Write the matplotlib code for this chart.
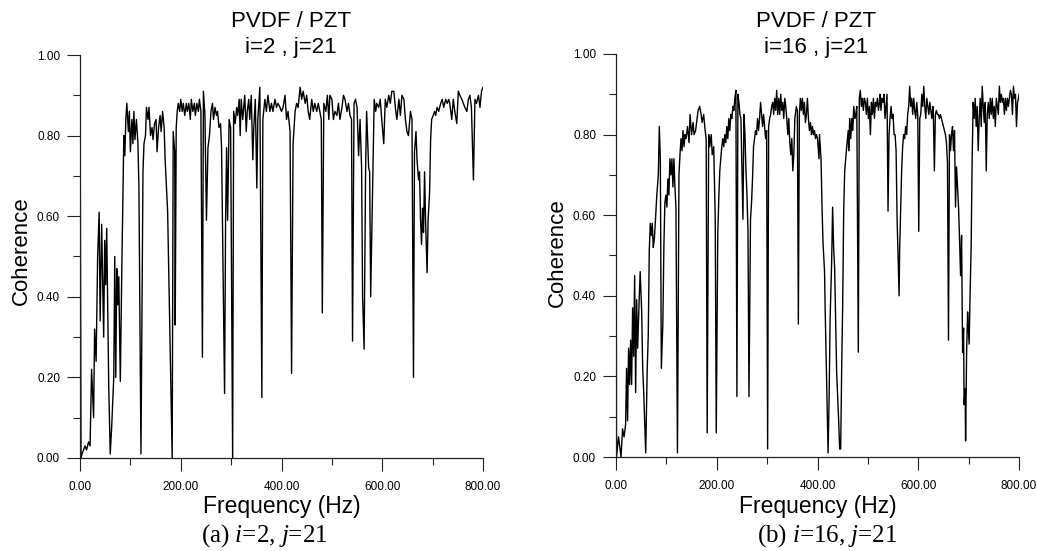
import matplotlib
matplotlib.use("Agg")
import matplotlib.pyplot as plt
from matplotlib.ticker import MultipleLocator, FormatStrFormatter

plt.rcParams['font.family'] = ['Liberation Sans', 'DejaVu Sans']
plt.rcParams['mathtext.fontset'] = 'custom'
plt.rcParams['mathtext.rm'] = 'Liberation Serif'
plt.rcParams['mathtext.it'] = 'Liberation Serif:italic'

# ---------------- data ----------------
left_freq = [
    0, 2, 4, 7, 10, 13, 17, 20, 23, 27,
    29, 32, 35, 38, 40, 43, 47, 49, 51, 53,
    57, 60, 63, 67, 69, 71, 73, 75, 77, 80,
    83, 87, 89, 91, 93, 96, 98, 100, 103, 105,
    107, 109, 112, 115, 117, 121, 125, 127, 130, 132,
    135, 137, 140, 143, 145, 148, 151, 153, 156, 159,
    161, 164, 167, 169, 172, 174, 183, 185, 188, 189,
    191, 193, 195, 198, 200, 203, 205, 208, 211, 213,
    216, 219, 221, 224, 227, 229, 232, 235, 237, 240,
    243, 245, 248, 251, 254, 257, 260, 263, 265, 268,
    271, 273, 276, 279, 281, 287, 289, 291, 293, 296,
    299, 303, 305, 308, 311, 313, 316, 318, 320, 323,
    327, 330, 332, 335, 337, 340, 343, 345, 348, 351,
    353, 357, 361, 363, 367, 370, 373, 377, 380, 383,
    387, 390, 393, 397, 400, 403, 407, 410, 413, 417,
    420, 423, 427, 430, 433, 437, 440, 443, 447, 450,
    453, 456, 460, 463, 466, 470, 473, 476, 479, 481,
    484, 488, 491, 494, 496, 500, 503, 506, 510, 513,
    516, 520, 523, 526, 530, 533, 536, 539, 541, 544,
    547, 550, 553, 556, 559, 561, 564, 567, 569, 573,
    575, 577, 580, 584, 587, 589, 593, 596, 599, 603,
    606, 609, 613, 616, 619, 623, 626, 629, 633, 636,
    639, 643, 646, 649, 652, 656, 659, 662, 664, 667,
    669, 672, 674, 676, 678, 680, 681, 682, 684, 686,
    689, 691, 694, 696, 698, 701, 704, 706, 709, 712,
    716, 719, 722, 726, 729, 732, 734, 738, 741, 744,
    748, 751, 754, 758, 761, 764, 768, 771, 774, 777,
    781, 784, 787, 791, 794, 797, 800,
]
left_coh = [
    0.99, 0.00, 0.01, 0.02, 0.03, 0.02, 0.04, 0.03, 0.22, 0.10,
    0.32, 0.24, 0.50, 0.61, 0.34, 0.58, 0.30, 0.54, 0.43, 0.57,
    0.18, 0.01, 0.08, 0.20, 0.50, 0.20, 0.47, 0.38, 0.45, 0.19,
    0.47, 0.80, 0.75, 0.84, 0.88, 0.81, 0.86, 0.76, 0.84, 0.78,
    0.86, 0.79, 0.84, 0.78, 0.67, 0.01, 0.71, 0.78, 0.80, 0.87,
    0.84, 0.87, 0.80, 0.82, 0.79, 0.83, 0.84, 0.76, 0.82, 0.85,
    0.81, 0.86, 0.82, 0.74, 0.66, 0.61, 0.00, 0.81, 0.76, 0.33,
    0.82, 0.86, 0.88, 0.86, 0.89, 0.86, 0.88, 0.85, 0.88, 0.86,
    0.88, 0.84, 0.89, 0.86, 0.88, 0.85, 0.88, 0.86, 0.89, 0.86,
    0.25, 0.91, 0.85, 0.59, 0.77, 0.80, 0.86, 0.88, 0.84, 0.87,
    0.85, 0.86, 0.82, 0.83, 0.77, 0.16, 0.59, 0.77, 0.59, 0.84,
    0.82, 0.00, 0.86, 0.83, 0.87, 0.85, 0.89, 0.80, 0.89, 0.84,
    0.90, 0.81, 0.86, 0.89, 0.84, 0.90, 0.74, 0.82, 0.89, 0.67,
    0.84, 0.92, 0.15, 0.84, 0.89, 0.86, 0.90, 0.86, 0.88, 0.86,
    0.89, 0.87, 0.88, 0.87, 0.86, 0.87, 0.90, 0.84, 0.86, 0.81,
    0.21, 0.78, 0.86, 0.88, 0.87, 0.92, 0.89, 0.91, 0.88, 0.90,
    0.86, 0.84, 0.89, 0.86, 0.88, 0.86, 0.88, 0.86, 0.84, 0.36,
    0.88, 0.86, 0.90, 0.84, 0.90, 0.89, 0.84, 0.86, 0.85, 0.88,
    0.84, 0.87, 0.90, 0.89, 0.86, 0.88, 0.85, 0.84, 0.29, 0.88,
    0.89, 0.87, 0.75, 0.84, 0.72, 0.40, 0.27, 0.72, 0.86, 0.72,
    0.71, 0.40, 0.61, 0.89, 0.86, 0.88, 0.87, 0.89, 0.84, 0.78,
    0.89, 0.87, 0.90, 0.88, 0.91, 0.91, 0.87, 0.84, 0.89, 0.85,
    0.90, 0.89, 0.84, 0.81, 0.80, 0.86, 0.84, 0.20, 0.76, 0.81,
    0.74, 0.69, 0.71, 0.59, 0.53, 0.62, 0.57, 0.56, 0.71, 0.59,
    0.46, 0.59, 0.66, 0.79, 0.84, 0.85, 0.86, 0.85, 0.87, 0.86,
    0.88, 0.89, 0.87, 0.89, 0.88, 0.89, 0.88, 0.84, 0.89, 0.86,
    0.83, 0.91, 0.90, 0.89, 0.88, 0.87, 0.86, 0.89, 0.90, 0.87,
    0.69, 0.89, 0.88, 0.90, 0.87, 0.91, 0.92,
]

right_freq = [
    0, 1, 5, 8, 10, 13, 16, 19, 21, 23,
    25, 27, 29, 31, 33, 35, 37, 39, 41, 43,
    46, 48, 51, 53, 55, 59, 62, 64, 66, 68,
    70, 72, 74, 76, 78, 81, 84, 86, 88, 90,
    93, 95, 97, 99, 101, 103, 105, 107, 109, 111,
    113, 115, 117, 119, 122, 125, 127, 129, 131, 133,
    135, 137, 139, 142, 145, 147, 150, 153, 155, 158,
    161, 163, 166, 169, 171, 174, 177, 179, 181, 184,
    186, 189, 191, 194, 197, 199, 202, 204, 206, 208,
    210, 212, 214, 216, 218, 220, 222, 224, 226, 228,
    230, 232, 234, 236, 238, 240, 242, 244, 246, 248,
    250, 252, 254, 256, 258, 260, 262, 264, 267, 269,
    271, 273, 275, 277, 279, 281, 283, 285, 287, 289,
    291, 293, 295, 297, 299, 301, 303, 305, 307, 309,
    311, 313, 315, 317, 319, 321, 323, 325, 327, 329,
    331, 333, 335, 337, 339, 341, 343, 345, 347, 349,
    351, 353, 355, 358, 360, 362, 364, 366, 368, 370,
    372, 374, 376, 378, 380, 382, 384, 386, 388, 390,
    392, 394, 396, 398, 400, 403, 404, 407, 409, 411,
    414, 415, 417, 419, 421, 423, 425, 428, 430, 432,
    434, 436, 438, 442, 444, 446, 448, 450, 452, 454,
    456, 458, 461, 462, 464, 466, 468, 470, 472, 474,
    476, 478, 481, 483, 485, 487, 489, 491, 493, 495,
    497, 499, 501, 503, 505, 507, 509, 511, 513, 515,
    517, 519, 521, 523, 524, 526, 528, 530, 532, 534,
    536, 538, 540, 542, 544, 546, 548, 550, 552, 554,
    556, 558, 560, 562, 563, 565, 567, 569, 571, 573,
    575, 577, 579, 581, 583, 585, 587, 589, 591, 593,
    595, 597, 599, 601, 603, 605, 607, 609, 611, 613,
    615, 617, 619, 621, 623, 625, 627, 629, 630, 632,
    634, 636, 638, 640, 642, 644, 646, 648, 650, 652,
    654, 656, 658, 660, 662, 664, 666, 668, 670, 672,
    674, 676, 678, 680, 682, 684, 686, 688, 690, 691,
    693, 694, 696, 698, 699, 701, 703, 705, 707, 709,
    711, 713, 715, 717, 719, 721, 723, 725, 727, 729,
    731, 733, 735, 737, 739, 741, 743, 745, 747, 749,
    751, 753, 755, 757, 759, 761, 763, 765, 767, 769,
    771, 773, 775, 777, 779, 781, 783, 785, 787, 789,
    791, 793, 795, 797, 799, 800,
]
right_coh = [
    0.99, 0.00, 0.05, 0.02, 0.00, 0.07, 0.05, 0.08, 0.22, 0.09,
    0.27, 0.18, 0.29, 0.18, 0.37, 0.25, 0.45, 0.16, 0.39, 0.27,
    0.39, 0.46, 0.36, 0.22, 0.16, 0.01, 0.22, 0.30, 0.51, 0.58,
    0.55, 0.58, 0.52, 0.54, 0.58, 0.65, 0.70, 0.82, 0.74, 0.22,
    0.33, 0.52, 0.63, 0.65, 0.62, 0.69, 0.65, 0.74, 0.70, 0.74,
    0.67, 0.74, 0.67, 0.62, 0.01, 0.70, 0.75, 0.79, 0.76, 0.81,
    0.77, 0.80, 0.79, 0.82, 0.78, 0.85, 0.80, 0.83, 0.80, 0.81,
    0.84, 0.86, 0.87, 0.85, 0.83, 0.85, 0.81, 0.79, 0.06, 0.80,
    0.77, 0.80, 0.75, 0.77, 0.59, 0.06, 0.55, 0.64, 0.71, 0.74,
    0.77, 0.79, 0.77, 0.80, 0.78, 0.82, 0.79, 0.84, 0.81, 0.85,
    0.84, 0.87, 0.86, 0.89, 0.91, 0.15, 0.90, 0.88, 0.85, 0.84,
    0.71, 0.59, 0.85, 0.80, 0.71, 0.65, 0.56, 0.15, 0.59, 0.63,
    0.69, 0.77, 0.79, 0.81, 0.80, 0.84, 0.81, 0.84, 0.88, 0.85,
    0.82, 0.85, 0.82, 0.79, 0.81, 0.02, 0.82, 0.84, 0.85, 0.87,
    0.88, 0.85, 0.89, 0.86, 0.91, 0.85, 0.89, 0.85, 0.90, 0.86,
    0.88, 0.84, 0.89, 0.87, 0.84, 0.80, 0.84, 0.78, 0.75, 0.79,
    0.71, 0.75, 0.84, 0.87, 0.86, 0.33, 0.85, 0.89, 0.86, 0.89,
    0.85, 0.88, 0.83, 0.85, 0.89, 0.84, 0.81, 0.83, 0.80, 0.82,
    0.80, 0.81, 0.79, 0.80, 0.79, 0.74, 0.80, 0.74, 0.62, 0.53,
    0.46, 0.38, 0.26, 0.14, 0.01, 0.14, 0.34, 0.48, 0.62, 0.52,
    0.47, 0.34, 0.21, 0.09, 0.02, 0.02, 0.22, 0.38, 0.61, 0.71,
    0.74, 0.77, 0.81, 0.76, 0.84, 0.79, 0.84, 0.81, 0.87, 0.84,
    0.85, 0.87, 0.26, 0.89, 0.91, 0.87, 0.89, 0.86, 0.89, 0.88,
    0.85, 0.89, 0.84, 0.87, 0.80, 0.88, 0.85, 0.89, 0.84, 0.88,
    0.87, 0.89, 0.86, 0.88, 0.90, 0.86, 0.89, 0.88, 0.90, 0.84,
    0.87, 0.90, 0.61, 0.80, 0.84, 0.87, 0.84, 0.85, 0.80, 0.80,
    0.76, 0.59, 0.49, 0.40, 0.51, 0.61, 0.71, 0.77, 0.80, 0.79,
    0.82, 0.80, 0.85, 0.87, 0.92, 0.87, 0.89, 0.85, 0.89, 0.86,
    0.84, 0.88, 0.85, 0.56, 0.84, 0.85, 0.90, 0.87, 0.92, 0.87,
    0.84, 0.89, 0.87, 0.85, 0.88, 0.86, 0.84, 0.87, 0.85, 0.71,
    0.85, 0.86, 0.85, 0.85, 0.84, 0.85, 0.84, 0.83, 0.82, 0.81,
    0.80, 0.78, 0.73, 0.29, 0.80, 0.76, 0.80, 0.82, 0.76, 0.81,
    0.62, 0.72, 0.67, 0.62, 0.54, 0.45, 0.55, 0.26, 0.32, 0.13,
    0.17, 0.04, 0.26, 0.36, 0.33, 0.28, 0.41, 0.52, 0.74, 0.88,
    0.84, 0.89, 0.82, 0.87, 0.76, 0.84, 0.89, 0.82, 0.92, 0.87,
    0.83, 0.88, 0.71, 0.85, 0.88, 0.84, 0.89, 0.85, 0.89, 0.84,
    0.87, 0.82, 0.89, 0.87, 0.85, 0.92, 0.88, 0.90, 0.88, 0.89,
    0.85, 0.89, 0.86, 0.89, 0.87, 0.89, 0.91, 0.90, 0.85, 0.92,
    0.89, 0.90, 0.82, 0.88, 0.89, 0.90,
]

x_ticks = [0, 200, 400, 600, 800]
y_ticks = [0.0, 0.2, 0.4, 0.6, 0.8, 1.0]
title_line1 = "PVDF / PZT"
titles_line2 = ["i=2 , j=21", "i=16 , j=21"]
captions = [r"(a) $i$=2, $j$=21", r"(b) $i$=16, $j$=21"]
x_label = "Frequency (Hz)"
y_label = "Coherence"

# ---------------- figure ----------------
W, H = 1037, 551
fig = plt.figure(figsize=(W / 100, H / 100), dpi=100)

def fx(px):
    return px / W

def fy(py):
    return 1 - py / H

panels = [
    dict(left=80, right=483, top=55, bottom=458, freq=left_freq, coh=left_coh,
         tcx=291, xlcx=282, capcx=264, ylx=27, ylcy=251),
    dict(left=616, right=1019, top=54, bottom=457, freq=right_freq, coh=right_coh,
         tcx=816, xlcx=818, capcx=827, ylx=563, ylcy=253),
]

for k, p in enumerate(panels):
    ax = fig.add_axes([fx(p['left']), fy(p['bottom']),
                       (p['right'] - p['left']) / W, (p['bottom'] - p['top']) / H])
    ax.plot(p['freq'], p['coh'], color='black', lw=1.0)
    ax.set_xlim(0, 800)
    ax.set_ylim(0, 1.0)
    ax.set_xticks(x_ticks)
    ax.set_yticks(y_ticks)
    ax.xaxis.set_minor_locator(MultipleLocator(100))
    ax.yaxis.set_minor_locator(MultipleLocator(0.1))
    ax.xaxis.set_major_formatter(FormatStrFormatter('%.2f'))
    ax.yaxis.set_major_formatter(FormatStrFormatter('%.2f'))
    for s in ['top', 'right']:
        ax.spines[s].set_visible(False)
    for s in ['left', 'bottom']:
        ax.spines[s].set_linewidth(0.9)
        ax.spines[s].set_color('#222222')
    ax.tick_params(axis='both', which='major', direction='out', length=9.4,
                   width=0.8, labelsize=8.5, color='#222222')
    ax.tick_params(axis='both', which='minor', direction='out', length=5,
                   width=0.8, color='#222222')
    ax.tick_params(axis='x', which='major', pad=7.5)
    ax.tick_params(axis='y', which='major', pad=5)
    ax.patch.set_visible(False)

    # titles
    fig.text(fx(p['tcx']), fy(27), title_line1, ha='center', va='baseline', fontsize=16)
    fig.text(fx(p['tcx']), fy(53), titles_line2[k], ha='center', va='baseline', fontsize=16)
    # axis labels
    fig.text(fx(p['xlcx']), fy(513), x_label, ha='center', va='baseline', fontsize=16.5)
    fig.text(fx(p['ylx']), fy(p['ylcy']), y_label, ha='center', va='baseline',
             rotation=90, rotation_mode='anchor', fontsize=16)
    # caption
    fig.text(fx(p['capcx']), fy(542), captions[k], ha='center', va='baseline',
             fontsize=18, family='Liberation Serif')

fig.savefig('out.png', dpi=100)
